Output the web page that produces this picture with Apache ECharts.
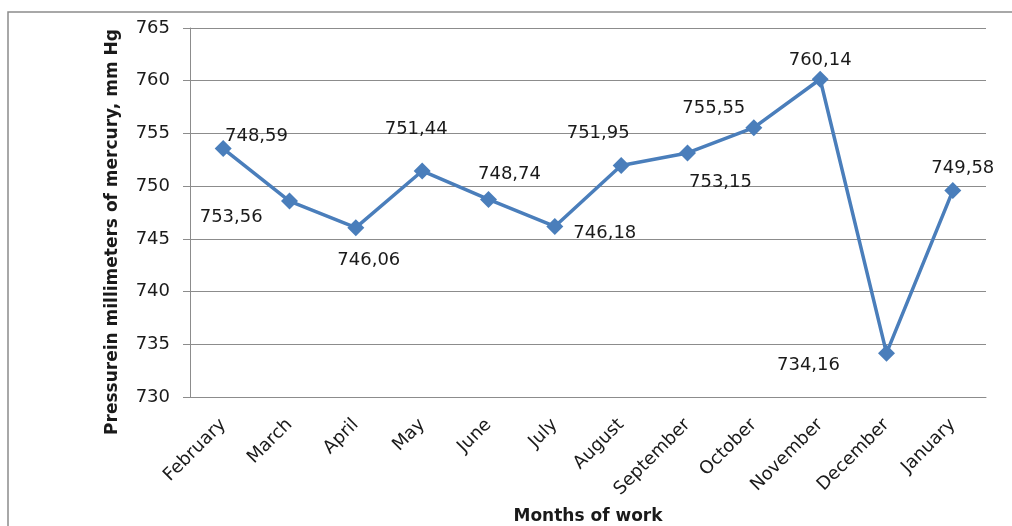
<!DOCTYPE html>
<html>
<head>
<meta charset="utf-8">
<script src="https://cdn.jsdelivr.net/npm/echarts@6/dist/echarts.min.js"></script>
<style>
  html, body { margin: 0; padding: 0; background: #fff; }
  #main { width: 1012px; height: 526px; }
</style>
</head>
<body>
<div id="main"></div>
<script>
var months = ['February', 'March', 'April', 'May', 'June', 'July', 'August',
              'September', 'October', 'November', 'December', 'January'];
var pressure = [753.56, 748.59, 746.06, 751.44, 748.74, 746.18, 751.95,
                753.15, 755.55, 760.14, 734.16, 749.58];
// where each value label sits relative to its marker (px)
var labelOffsets = [[8, 69], [-33, -65], [13, 33], [-6, -42], [21, -25], [50, 7],
                    [-23, -32], [33, 29], [-40, -19], [0, -19], [-78, 12], [10, -22]];

var myChart = echarts.init(document.getElementById('main'));

var seriesData = pressure.map(function (v, i) {
    return {
        value: v,
        label: { offset: labelOffsets[i] }
    };
});

var option = {
    animation: false,
    textStyle: { fontFamily: 'DejaVu Sans' },
    grid: { left: 190, right: 26, top: 28, bottom: 129 },
    xAxis: {
        type: 'category',
        data: months,
        boundaryGap: true,
        axisLine: { lineStyle: { color: '#8c8c8c', width: 1 } },
        axisTick: { show: false },
        axisLabel: {
            rotate: 45,
            margin: 25,
            interval: 0,
            color: '#1a1a1a',
            fontSize: 18
        }
    },
    yAxis: {
        type: 'value',
        min: 730,
        max: 765,
        interval: 5,
        axisLine: { show: true, lineStyle: { color: '#8c8c8c', width: 1 } },
        axisTick: { show: true, length: 7, lineStyle: { color: '#8c8c8c' } },
        axisLabel: { margin: 20, color: '#1a1a1a', fontSize: 18 },
        splitLine: { lineStyle: { color: '#8c8c8c', width: 1 } }
    },
    series: [
        {
            type: 'line',
            data: seriesData,
            symbol: 'diamond',
            symbolSize: 17,
            lineStyle: { color: '#4a7ebb', width: 3.5 },
            itemStyle: { color: '#4a7ebb' },
            label: {
                show: true,
                position: 'inside',
                color: '#1a1a1a',
                fontSize: 18,
                formatter: function (p) {
                    return String(p.value).replace('.', ',');
                }
            }
        }
    ],
    graphic: [
        {
            type: 'rect',
            shape: { x: 8, y: 12, width: 1100, height: 700 },
            style: { fill: 'none', stroke: '#8c8c8c', lineWidth: 1.5 },
            silent: true
        },
        {
            type: 'text',
            x: 113,
            y: 232,
            rotation: Math.PI / 2,
            style: {
                text: 'Pressurein millimeters of mercury, mm Hg',
                font: 'bold 17px "DejaVu Sans"',
                fill: '#1a1a1a',
                textAlign: 'center',
                textVerticalAlign: 'middle'
            }
        },
        {
            type: 'text',
            x: 588,
            y: 517,
            style: {
                text: 'Months of work',
                font: 'bold 17px "DejaVu Sans"',
                fill: '#1a1a1a',
                textAlign: 'center',
                textVerticalAlign: 'middle'
            }
        }
    ]
};

myChart.setOption(option);
</script>
</body>
</html>
